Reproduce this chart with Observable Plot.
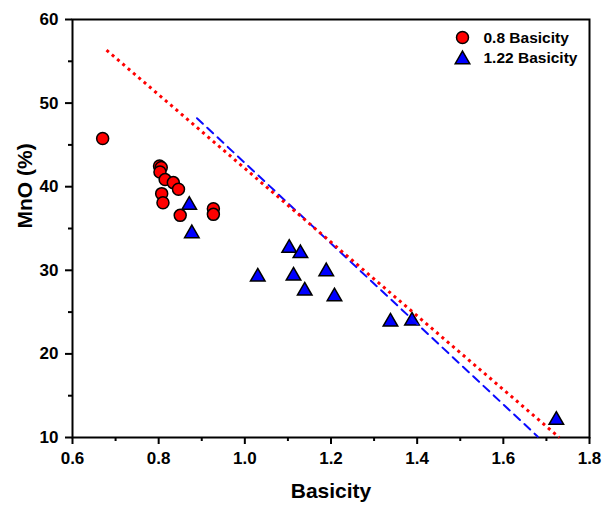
<!DOCTYPE html>
<html>
<head>
<meta charset="utf-8">
<script src="https://cdn.jsdelivr.net/npm/d3@7"></script>
<script src="https://cdn.jsdelivr.net/npm/@observablehq/plot@0.6"></script>
<style>
  html, body { margin: 0; padding: 0; background: #fff; }
  #chart { width: 603px; height: 507px; }
</style>
</head>
<body>
<div id="chart"></div>
<script>
// Series 1: 0.8 Basicity (red circles)
const basicity08X = [0.670, 0.802, 0.806, 0.803, 0.815, 0.834, 0.846, 0.807, 0.810, 0.850, 0.927, 0.927];
const basicity08Y = [45.76, 42.48, 42.30, 41.76, 40.85, 40.49, 39.69, 39.17, 38.09, 36.57, 37.37, 36.69];

// Series 2: 1.22 Basicity (blue triangles)
const basicity122X = [0.871, 0.877, 1.103, 1.129, 1.030, 1.113, 1.189, 1.139, 1.208, 1.338, 1.388, 1.723];
const basicity122Y = [38.04, 34.65, 32.89, 32.26, 29.46, 29.58, 30.10, 27.78, 27.10, 24.07, 24.19, 12.32];

// Reference lines (endpoints)
const redLineX = [0.679, 1.730];
const redLineY = [56.34, 10.0];
const blueLineX = [0.889, 1.680];
const blueLineY = [48.19, 10.1];

// Tick labels
const xMajorTicks = [0.6, 0.8, 1.0, 1.2, 1.4, 1.6, 1.8];
const xMinorTicks = [0.7, 0.9, 1.1, 1.3, 1.5, 1.7];
const yMajorTicks = [10, 20, 30, 40, 50, 60];
const yMinorTicks = [15, 25, 35, 45, 55];

const seriesNames = ["0.8 Basicity", "1.22 Basicity"];
const xLabel = "Basicity";
const yLabel = "MnO (%)";

const red = basicity08X.map((x, i) => ({x, y: basicity08Y[i]}));
const blue = basicity122X.map((x, i) => ({x, y: basicity122Y[i]}));
const redLine = redLineX.map((x, i) => ({x, y: redLineY[i]}));
const blueLine = blueLineX.map((x, i) => ({x, y: blueLineY[i]}));

const font = "'Liberation Sans', Arial, Helvetica, sans-serif";

const chart = Plot.plot({
  width: 603,
  height: 507,
  marginLeft: 72,
  marginRight: 14,
  marginTop: 19,
  marginBottom: 70,
  style: {fontFamily: font, background: "#fff", color: "#000", overflow: "visible"},
  x: {domain: [0.6, 1.8], axis: null},
  y: {domain: [10, 60], axis: null},
  marks: [
    // axes
    Plot.axisX({ticks: xMajorTicks, tickSize: 7, tickPadding: 7, strokeWidth: 2, fontSize: 17, fontWeight: "bold", fill: "#000", label: null, tickFormat: d3.format(".1f")}),
    Plot.axisX({ticks: xMinorTicks, tickSize: 4, strokeWidth: 2, label: null, tickFormat: () => ""}),
    Plot.axisY({ticks: yMajorTicks, tickSize: 7, tickPadding: 7, strokeWidth: 2, fontSize: 17, fontWeight: "bold", fill: "#000", label: null}),
    Plot.axisY({ticks: yMinorTicks, tickSize: 4, strokeWidth: 2, label: null, tickFormat: () => ""}),
    Plot.frame({stroke: "#000", strokeWidth: 2}),
    // axis titles
    Plot.text([xLabel], {frameAnchor: "bottom", dy: 60, lineAnchor: "bottom", fontSize: 21, fontWeight: "bold", fill: "#000"}),
    Plot.text([yLabel], {frameAnchor: "left", dx: -41, rotate: -90, lineAnchor: "bottom", fontSize: 21, fontWeight: "bold", fill: "#000"}),
    // data
    Plot.dot(red, {x: "x", y: "y", r: 6, fill: "#ff0000", stroke: "#000", strokeWidth: 1.5}),
    Plot.dot(blue, {x: "x", y: "y", symbol: "triangle", r: 5.4, dy: 2, fill: "#0000ff", stroke: "#000", strokeWidth: 1.5}),
    // fitted lines
    Plot.line(blueLine, {x: "x", y: "y", stroke: "#0a0aff", strokeWidth: 2, strokeDasharray: "8,6"}),
    Plot.line(redLine, {x: "x", y: "y", stroke: "#ff0000", strokeWidth: 3, strokeDasharray: "3,4", strokeLinecap: "butt"}),
    // legend
    Plot.dot([seriesNames[0]], {frameAnchor: "top-right", dx: -127, dy: 18, r: 6, fill: "#ff0000", stroke: "#000", strokeWidth: 1.5}),
    Plot.dot([seriesNames[1]], {frameAnchor: "top-right", dx: -127, dy: 40, symbol: "triangle", r: 5.4, fill: "#0000ff", stroke: "#000", strokeWidth: 1.5}),
    Plot.text([seriesNames[0]], {text: d => d, frameAnchor: "top-right", dx: -106, dy: 19, textAnchor: "start", lineAnchor: "middle", fontSize: 15.5, fontWeight: "bold", fill: "#000"}),
    Plot.text([seriesNames[1]], {text: d => d, frameAnchor: "top-right", dx: -106, dy: 39, textAnchor: "start", lineAnchor: "middle", fontSize: 15.5, fontWeight: "bold", fill: "#000"})
  ]
});
document.getElementById("chart").appendChild(chart);
</script>
</body>
</html>
